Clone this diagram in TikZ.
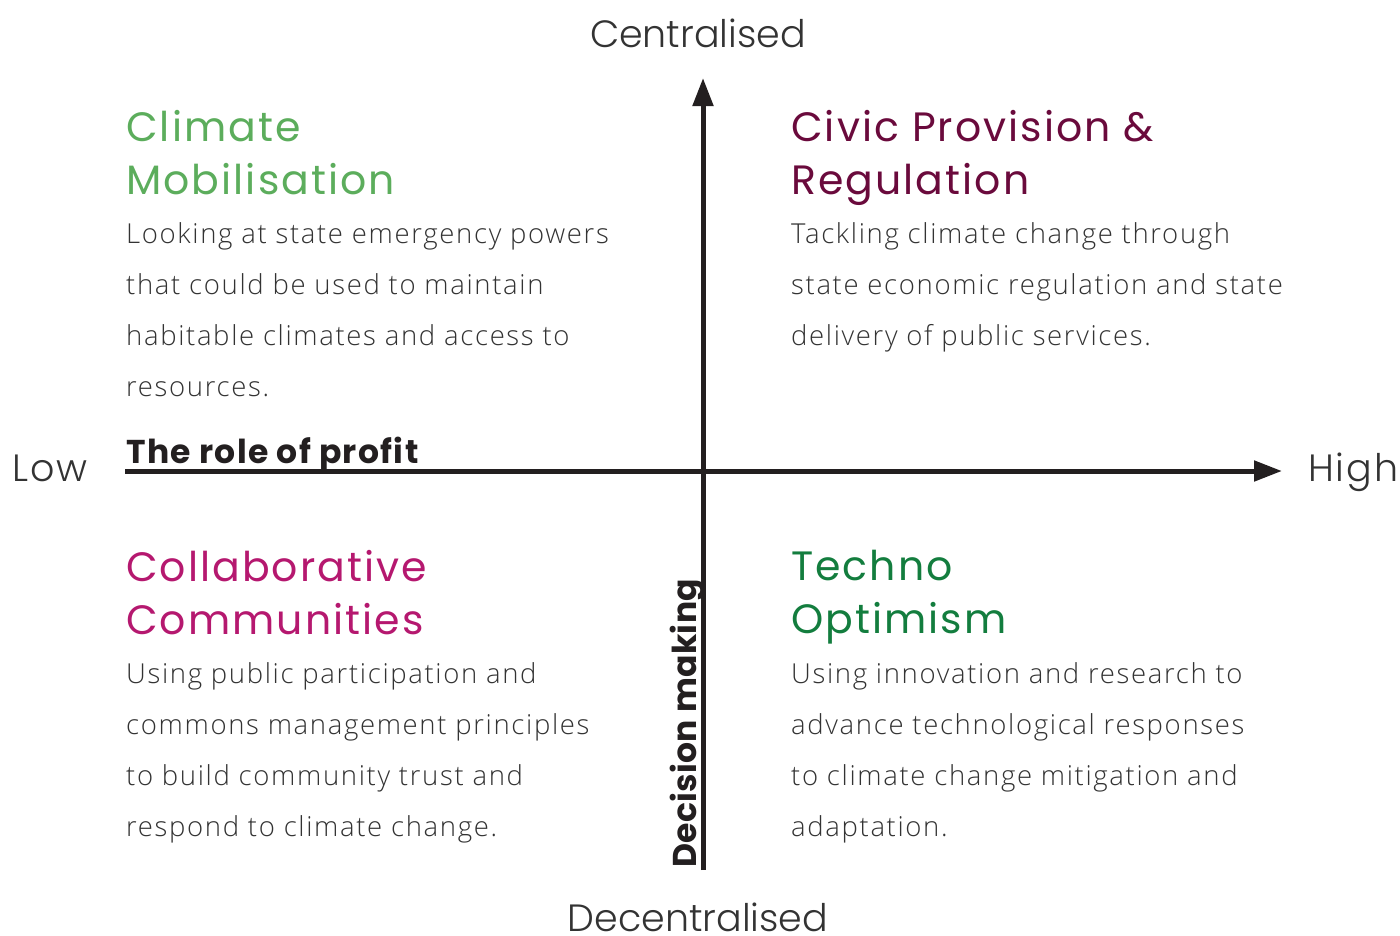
\documentclass[tikz,border=0pt]{standalone}
\usepackage{fontspec}
\usetikzlibrary{arrows.meta}
\newfontfamily\headfont[LetterSpace=5]{Poppins}
\newfontfamily\headboldfont[LetterSpace=4]{Poppins Bold}
\newfontfamily\decfont[LetterSpace=1]{Poppins Bold}
\newfontfamily\axisfont[LetterSpace=0]{Poppins Light}
\newfontfamily\axiswidefont[LetterSpace=5]{Poppins Light}
\newfontfamily\bodyfont[LetterSpace=6]{Open Sans Light}
\definecolor{cgreen}{HTML}{5CAD5C}
\definecolor{cmaroon}{HTML}{6A0A3C}
\definecolor{cmagenta}{HTML}{B5186F}
\definecolor{cdgreen}{HTML}{137D3E}
\definecolor{ctext}{HTML}{333333}
\definecolor{caxis}{HTML}{231F20}
\tikzset{
  heading/.style={anchor=north west, inner sep=0pt, align=left, font={\headfont\fontsize{41}{53}\selectfont}},
  body/.style={anchor=north west, inner sep=0pt, align=left, text=ctext, font={\bodyfont\fontsize{27.5}{51}\selectfont}},
  axislabel/.style={inner sep=0pt, text=ctext, font={\axisfont\fontsize{38}{46}\selectfont}},
  sidelabel/.style={inner sep=0pt, text=ctext, font={\axiswidefont\fontsize{38}{46}\selectfont}},
  axisname/.style={inner sep=0pt, text=caxis, font={\headboldfont\fontsize{33}{40}\selectfont}},
  decname/.style={inner sep=0pt, text=caxis, font={\decfont\fontsize{33}{40}\selectfont}},
  axisline/.style={draw=caxis, line width=5pt, -{Triangle[width=20pt,length=28pt]}}
}
\begin{document}
\begin{tikzpicture}[x=1pt,y=-1pt]
\path[use as bounding box] (0,0) rectangle (1400,935);
\coordinate (vb) at (703,870);
\coordinate (vt) at (703,78);
\coordinate (hl) at (125,471);
\coordinate (hr) at (1282,471);
\draw[axisline] (vb) -- (vt);
\draw[axisline] (hl) -- (hr);
\node[axislabel, anchor=base] (cen) at (698,47) {Centralised};
\node[axislabel, anchor=base] (dec) at (698,931) {Decentralised};
\node[sidelabel, anchor=base west] (low) at (12,481) {Low};
\node[sidelabel, anchor=base west] (high) at (1308,481) {High};
\node[axisname, anchor=base west] (profit) at (126,463) {The role of profit};
\node[decname, anchor=base west, rotate=90] (decision) at (696,868) {Decision making};
\node[heading, text=cgreen] (cm) at (126,110) {Climate\\Mobilisation};
\node[body] (cmt) at (126,222) {Looking at state emergency powers\\that could be used to maintain\\habitable climates and access to\\resources.};
\node[heading, text=cmaroon] (cp) at (791,110) {Civic Provision \&\\Regulation};
\node[body] (cpt) at (791,222) {Tackling climate change through\\state economic regulation and state\\delivery of public services.};
\node[heading, text=cmagenta] (cc) at (126,550) {Collaborative\\Communities};
\node[body] (cct) at (126,662) {Using public participation and\\commons management principles\\to build community trust and\\respond to climate change.};
\node[heading, text=cdgreen] (to) at (791,550) {Techno\\Optimism};
\node[body] (tot) at (791,662) {Using innovation and research to\\advance technological responses\\to climate change mitigation and\\adaptation.};
\end{tikzpicture}
\end{document}
